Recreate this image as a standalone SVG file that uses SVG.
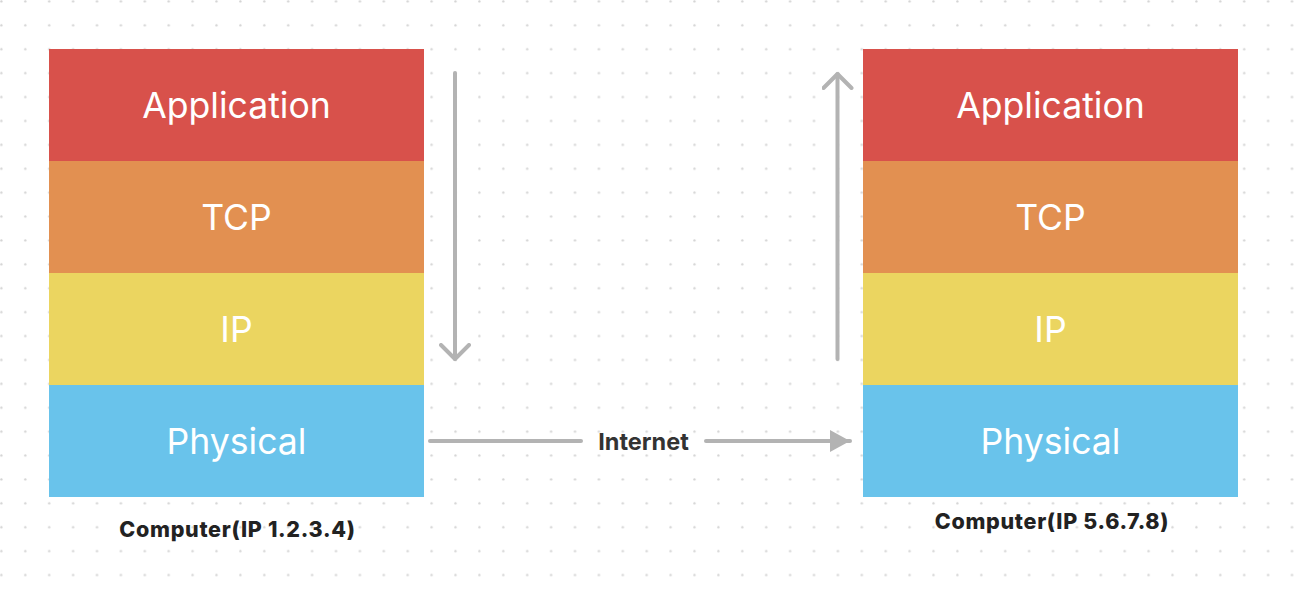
<svg xmlns="http://www.w3.org/2000/svg" width="1302" height="590" viewBox="0 0 1302 590">
<defs>
<pattern id="dots" x="0" y="0" width="23.9" height="23.9" patternUnits="userSpaceOnUse">
<circle cx="1.4" cy="1.4" r="1.2" fill="#d4d4d4"/>
</pattern>
<marker id="tri" viewBox="0 0 20 22" refX="20" refY="11" markerWidth="20" markerHeight="22" markerUnits="userSpaceOnUse" orient="auto">
<path d="M0,0 L20,11 L0,22 Z" fill="#b3b3b3"/>
</marker>
<marker id="chev" viewBox="-16 -16 20 32" refX="0" refY="0" markerWidth="20" markerHeight="32" markerUnits="userSpaceOnUse" orient="auto">
<path d="M-14,-14 L0,0 L-14,14" fill="none" stroke="#b3b3b3" stroke-width="4" stroke-linecap="round" stroke-linejoin="round"/>
</marker>
</defs>
<style>
.layer-text{font-family:Inter,"Liberation Sans",sans-serif;font-size:35.6px;fill:#ffffff;text-anchor:middle}
.label{font-family:Inter,"Liberation Sans",sans-serif;font-size:21.5px;font-weight:800;letter-spacing:0.7px;fill:#222222;text-anchor:middle}
.net{font-family:Inter,"Liberation Sans",sans-serif;font-size:23.5px;font-weight:700;fill:#333333;text-anchor:middle}
.conn{stroke:#b3b3b3;stroke-width:4;stroke-linecap:round;fill:none}
.app{fill:#d8514b}.tcp{fill:#e29051}.ip{fill:#ebd560}.phy{fill:#69c3eb}
</style>
<rect width="1302" height="590" fill="#ffffff"/>
<rect width="1302" height="590" fill="url(#dots)"/>

<g id="left-stack">
<g id="left-application"><rect class="app" x="49" y="49" width="375" height="112"/><text class="layer-text" x="236.5" y="118">Application</text></g>
<g id="left-tcp"><rect class="tcp" x="49" y="161" width="375" height="112"/><text class="layer-text" x="236.5" y="230">TCP</text></g>
<g id="left-ip"><rect class="ip" x="49" y="273" width="375" height="112"/><text class="layer-text" x="236.5" y="342">IP</text></g>
<g id="left-physical"><rect class="phy" x="49" y="385" width="375" height="112"/><text class="layer-text" x="236.5" y="454">Physical</text></g>
</g>

<g id="right-stack">
<g id="right-application"><rect class="app" x="863" y="49" width="375" height="112"/><text class="layer-text" x="1050.5" y="118">Application</text></g>
<g id="right-tcp"><rect class="tcp" x="863" y="161" width="375" height="112"/><text class="layer-text" x="1050.5" y="230">TCP</text></g>
<g id="right-ip"><rect class="ip" x="863" y="273" width="375" height="112"/><text class="layer-text" x="1050.5" y="342">IP</text></g>
<g id="right-physical"><rect class="phy" x="863" y="385" width="375" height="112"/><text class="layer-text" x="1050.5" y="454">Physical</text></g>
</g>

<g id="left-label"><text class="label" x="237.5" y="537">Computer(IP 1.2.3.4)</text></g>
<g id="right-label"><text class="label" x="1052" y="529">Computer(IP 5.6.7.8)</text></g>

<g id="connectors">
<line class="conn" x1="455" y1="73" x2="455" y2="359" marker-end="url(#chev)"/>
<line class="conn" x1="837.5" y1="359" x2="837.5" y2="74" marker-end="url(#chev)"/>
<line class="conn" x1="430" y1="441" x2="581" y2="441"/>
<line class="conn" x1="706" y1="441" x2="850" y2="441" stroke-linecap="butt" marker-end="url(#tri)"/>
<text class="net" x="643.5" y="449.5">Internet</text>
</g>
</svg>
